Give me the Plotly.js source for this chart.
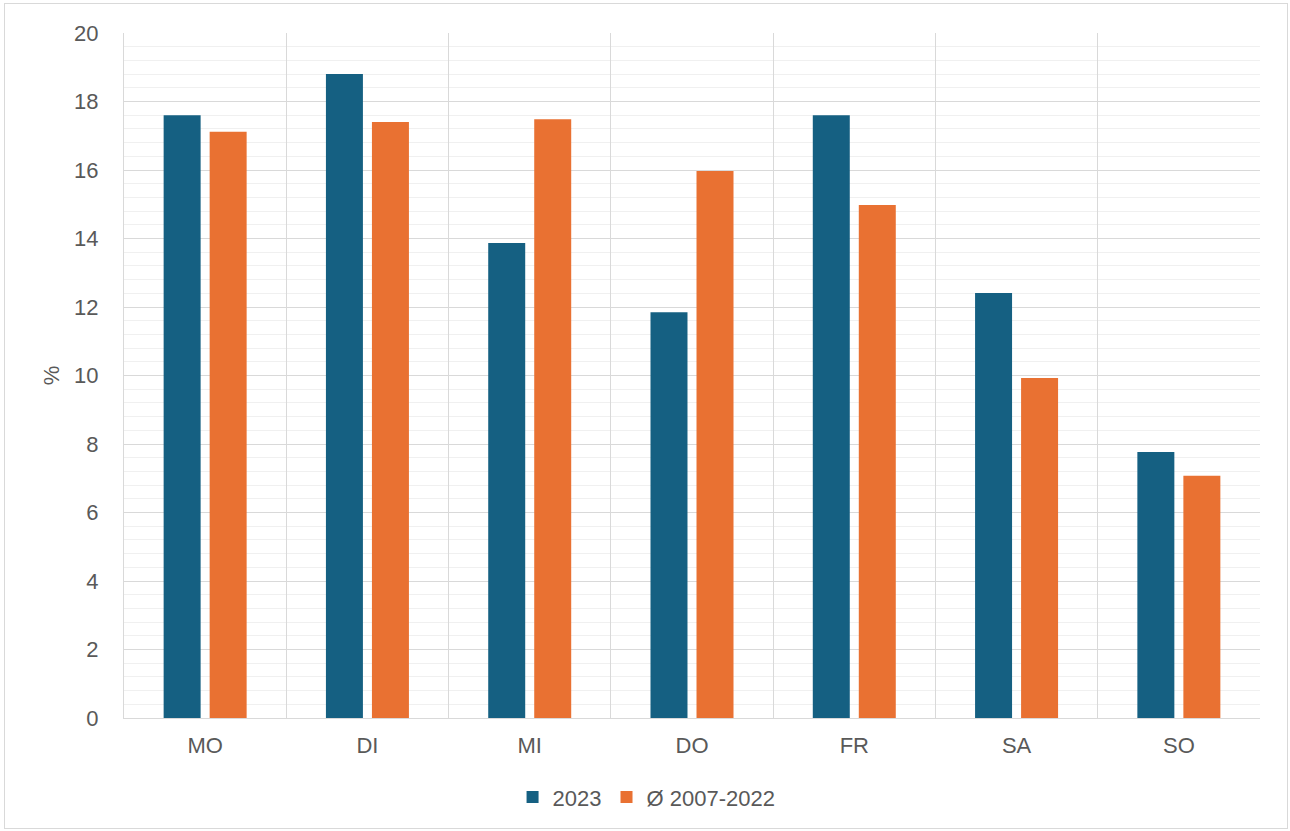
<!DOCTYPE html>
<html>
<head>
<meta charset="utf-8">
<script src="https://cdn.plot.ly/plotly-3.0.1.min.js"></script>
<style>
  html, body { margin: 0; padding: 0; background: #ffffff; }
  #chart { position: absolute; left: 0; top: 0; width: 1290px; height: 831px; }
  #frame { position: absolute; left: 4px; top: 3px; width: 1282px; height: 824px; border: 1px solid #d9d9d9; pointer-events: none; }
</style>
</head>
<body>
<div id="chart"></div>
<div id="frame"></div>
<script>
const categories = ["MO", "DI", "MI", "DO", "FR", "SA", "SO"];
const values2023 = [17.6, 18.8, 13.87, 11.85, 17.6, 12.41, 7.77];
const valuesAvg = [17.12, 17.4, 17.48, 15.97, 14.98, 9.93, 7.07];
const seriesNames = ["2023", "Ø 2007-2022"];
const yTicks = [0, 2, 4, 6, 8, 10, 12, 14, 16, 18, 20];

const fontFamily = "Arial, 'Liberation Sans', sans-serif";
const textColor = "#595959";

const traces = [
  { type: "bar", name: seriesNames[0], x: categories, y: values2023,
    marker: { color: "#156082" }, hoverinfo: "x+y" },
  { type: "bar", name: seriesNames[1], x: categories, y: valuesAvg,
    marker: { color: "#E97132" }, hoverinfo: "x+y" }
];

const layout = {
  width: 1290, height: 831,
  margin: { l: 124, r: 30, t: 33, b: 113, autoexpand: false },
  paper_bgcolor: "#ffffff", plot_bgcolor: "#ffffff",
  font: { family: fontFamily, size: 22, color: textColor },
  barmode: "group",
  bargap: 0.433,
  bargroupgap: 0.196,
  showlegend: true,
  legend: { orientation: "h", x: 0.46, xanchor: "center", y: -0.085, yanchor: "top",
            font: { size: 22, color: textColor }, itemwidth: 30, tracegroupgap: 0 },
  xaxis: {
    type: "category",
    tickson: "boundaries",
    showgrid: true, gridcolor: "#d9d9d9", gridwidth: 1,
    ticks: "", ticklen: 0,
    showline: true, linecolor: "#d9d9d9", linewidth: 1,
    zeroline: false,
    tickfont: { size: 22, color: textColor },
    ticklabelstandoff: 8
  },
  yaxis: {
    range: [0, 20],
    tickvals: yTicks,
    ticktext: yTicks.map(String),
    showgrid: true, gridcolor: "#d9d9d9", gridwidth: 1,
    minor: { dtick: 0.4, showgrid: true, gridcolor: "#f0f0f0", gridwidth: 1, ticks: "" },
    zeroline: false,
    showline: true, linecolor: "#d9d9d9", linewidth: 1,
    ticks: "",
    tickfont: { size: 22, color: textColor },
    ticklabelstandoff: 20,
    title: { text: "%", font: { size: 22, color: textColor }, standoff: 8 }
  }
};

Plotly.newPlot("chart", traces, layout, { displayModeBar: false, staticPlot: true });
</script>
</body>
</html>
